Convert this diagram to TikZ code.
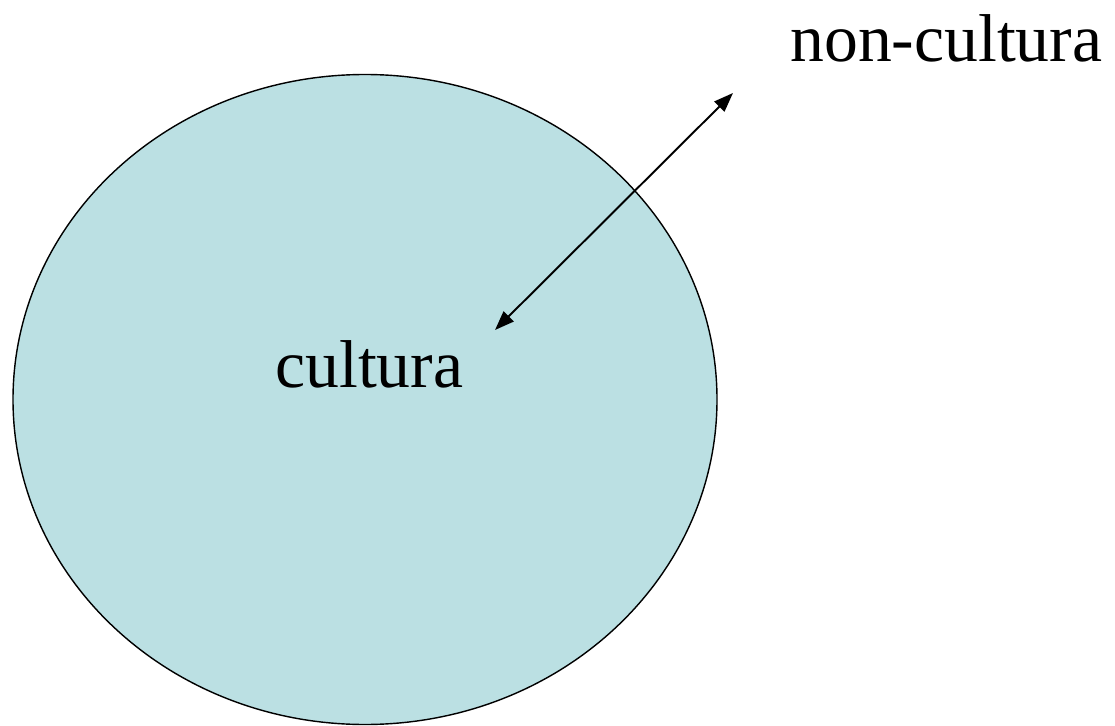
\documentclass[tikz,border=0pt]{standalone}
\usepackage{fontspec}
\setmainfont{Liberation Serif}
\usepackage{tikz}
\usetikzlibrary{arrows.meta}
\definecolor{cultblue}{HTML}{BBE0E3}

\begin{document}
\begin{tikzpicture}[x=0.02cm,y=-0.02cm]
  \useasboundingbox (0,0) rectangle (1115,726);
  \filldraw[fill=cultblue, draw=black, line width=0.8pt] (365,399.5) ellipse (352 and 325);
  \node[anchor=base west, inner sep=0pt, font=\fontsize{38.5}{44}\selectfont] (cult) at (275,387) {cultura};
  \node[anchor=base west, inner sep=0pt, font=\fontsize{38.5}{44}\selectfont] (noncult) at (790,62) {non-cultura};

  \coordinate (inner) at (495,330);
  \coordinate (outer) at (733,93);
  \draw[{Triangle[length=11pt,width=8pt]}-{Triangle[length=11pt,width=8pt]}, line width=1.1pt] (inner) -- (outer);
\end{tikzpicture}
\end{document}
